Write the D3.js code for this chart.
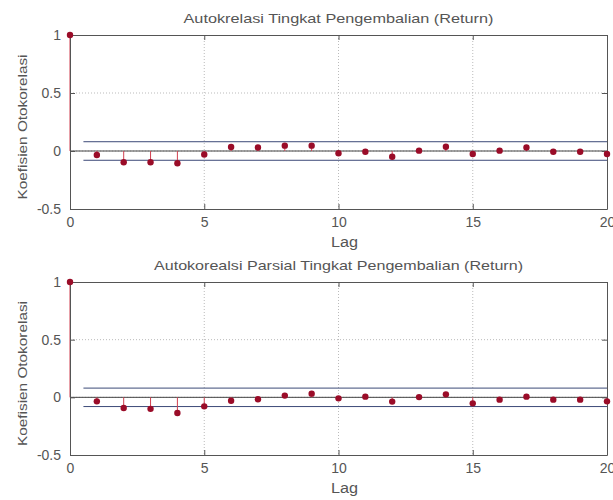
<!DOCTYPE html>
<html>
<head>
<meta charset="utf-8">
<script src="https://cdn.jsdelivr.net/npm/d3@7"></script>
<style>
  body { margin: 0; background: #fff; }
  text { font-family: "Liberation Sans", Arial, sans-serif; fill: #555; }
</style>
</head>
<body>
<svg width="613" height="500"></svg>
<script>
var lags = [0, 1, 2, 3, 4, 5, 6, 7, 8, 9, 10, 11, 12, 13, 14, 15, 16, 17, 18, 19, 20];
var acf = [1, -0.035, -0.097, -0.097, -0.106, -0.03, 0.034, 0.03, 0.046, 0.046, -0.02,
  -0.006, -0.049, 0.003, 0.037, -0.026, 0.003, 0.03, -0.006, -0.006, -0.026];
var pacf = [1, -0.035, -0.092, -0.1, -0.136, -0.078, -0.029, -0.017, 0.015, 0.032, -0.009,
  0.006, -0.037, 0.002, 0.026, -0.052, -0.02, 0.006, -0.02, -0.02, -0.035];
var bound = 0.08;
var boundStart = 0.5;
var xTicks = [0, 5, 10, 15, 20];
var yTicks = [-0.5, 0, 0.5, 1];
var titles = ["Autokrelasi Tingkat Pengembalian (Return)",
  "Autokorealsi Parsial Tingkat Pengembalian (Return)"];
var xLabel = "Lag";
var yLabel = "Koefisien Otokorelasi";

var svg = d3.select("svg");

function panel(values, title, titleWidth, top, bottom) {
  var left = 70, right = 607;
  var x = d3.scaleLinear().domain([0, 20]).range([left, right]),
      y = d3.scaleLinear().domain([-0.5, 1]).range([bottom, top]);
  var g = svg.append("g");

  // grid
  g.selectAll(".gx").data(xTicks.slice(1, -1)).enter().append("line")
      .attr("x1", function(d) { return x(d); }).attr("x2", function(d) { return x(d); })
      .attr("y1", top).attr("y2", bottom)
      .attr("stroke", "#bbb").attr("stroke-dasharray", "1,2");
  g.selectAll(".gy").data(yTicks.slice(1, -1)).enter().append("line")
      .attr("y1", function(d) { return y(d); }).attr("y2", function(d) { return y(d); })
      .attr("x1", left).attr("x2", right)
      .attr("stroke", "#bbb").attr("stroke-dasharray", "1,2");

  // zero line and confidence bounds
  g.append("line").attr("x1", x(0)).attr("x2", x(20)).attr("y1", y(0)).attr("y2", y(0))
      .attr("stroke", "#444");
  [bound, -bound].forEach(function(b) {
    g.append("line").attr("x1", x(boundStart)).attr("x2", x(20))
        .attr("y1", y(b)).attr("y2", y(b))
        .attr("stroke", "#3c4a78");
  });

  // stems
  g.selectAll(".stem").data(lags).enter().append("line")
      .attr("x1", function(d) { return x(d); }).attr("x2", function(d) { return x(d); })
      .attr("y1", y(0)).attr("y2", function(d, i) { return y(values[i]); })
      .attr("stroke", "#d04050");

  // axes box with inward ticks
  var fmt = function(d) { return String(d); };
  g.append("g").attr("transform", "translate(0," + bottom + ")")
      .call(d3.axisBottom(x).tickValues(xTicks).tickSizeInner(-5).tickSizeOuter(0).tickPadding(8).tickFormat(fmt));
  g.append("g").attr("transform", "translate(0," + top + ")")
      .call(d3.axisTop(x).tickValues(xTicks).tickSizeInner(-5).tickSizeOuter(0).tickFormat(""));
  g.append("g").attr("transform", "translate(" + left + ",0)")
      .call(d3.axisLeft(y).tickValues(yTicks).tickSizeInner(-5).tickSizeOuter(0).tickPadding(9).tickFormat(fmt));
  g.append("g").attr("transform", "translate(" + right + ",0)")
      .call(d3.axisRight(y).tickValues(yTicks).tickSizeInner(-5).tickSizeOuter(0).tickFormat(""));
  g.selectAll(".domain, .tick line").attr("stroke", "#555");
  g.selectAll(".tick text").style("font-size", "14px").attr("fill", "#555");

  g.selectAll(".dot").data(lags).enter().append("circle")
      .attr("cx", function(d) { return x(d); })
      .attr("cy", function(d, i) { return y(values[i]); })
      .attr("r", 3.2)
      .attr("fill", "#9a0c28");

  g.append("text").attr("x", (left + right) / 2).attr("y", top - 12)
      .attr("text-anchor", "middle").style("font-size", "13px")
      .attr("textLength", titleWidth).attr("lengthAdjust", "spacingAndGlyphs").text(title);
  g.append("text").attr("x", (left + right) / 2 + 6).attr("y", bottom + 38)
      .attr("text-anchor", "middle").style("font-size", "14px")
      .attr("textLength", 27).attr("lengthAdjust", "spacingAndGlyphs").text(xLabel);
  g.append("text")
      .attr("transform", "translate(27," + ((top + bottom) / 2 + 5) + ") rotate(-90)")
      .attr("text-anchor", "middle").style("font-size", "13px")
      .attr("textLength", 145).attr("lengthAdjust", "spacingAndGlyphs").text(yLabel);
}

panel(acf, titles[0], 310, 35, 209);
panel(pacf, titles[1], 369, 282, 455);
</script>
</body>
</html>
